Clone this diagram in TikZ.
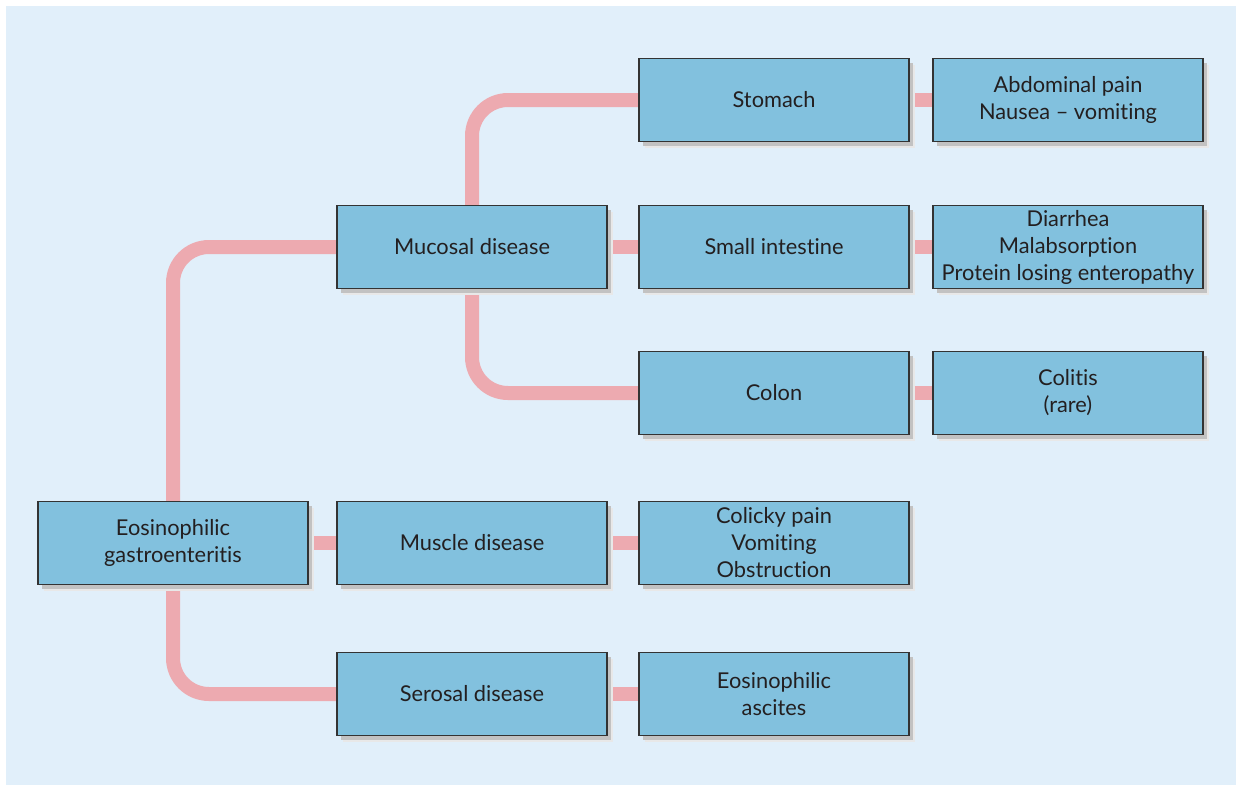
\documentclass[tikz,border=0pt]{standalone}
\usepackage{fontspec}
\setmainfont{Lato}[Ligatures=NoCommon]
\usetikzlibrary{positioning, shadows, backgrounds}
\definecolor{panelBack}{HTML}{E1EFFA}
\definecolor{boxFill}{HTML}{82C1DE}
\definecolor{boxLine}{HTML}{333333}
\definecolor{linkPink}{HTML}{EDAAB0}
\definecolor{textInk}{HTML}{231F20}

\begin{document}
\begin{tikzpicture}[
    x=1pt, y=-1pt,
    node distance=30pt,
    box/.style={
        rectangle,
        draw=boxLine,
        line width=1.1pt,
        fill=boxFill,
        minimum width=270pt,
        minimum height=83pt,
        inner sep=0pt,
        outer sep=0pt,
        align=center,
        font=\fontsize{21.8}{27}\selectfont,
        text=textInk,
        drop shadow={shadow xshift=6pt, shadow yshift=-6pt, fill=black!9, opacity=1},
        drop shadow={shadow xshift=4pt, shadow yshift=-4pt, fill=black!24, opacity=1}
    },
    link/.style={
        draw=linkPink,
        line width=14pt,
        rounded corners=36pt
    }
]
\useasboundingbox (0,0) rectangle (1242,788);

% Root and second level
\node[box] (gastro) at (173,543) {Eosinophilic\\gastroenteritis};
\node[box, right=29pt of gastro] (muscle) {Muscle disease};
\node[box, above=213pt of muscle] (mucosal) {Mucosal disease};
\node[box, below=68pt of muscle] (serosal) {Serosal disease};

% Sites
\node[box, right=32pt of mucosal] (small) {Small intestine};
\node[box, above=64pt of small] (stomach) {Stomach};
\node[box, below=63pt of small] (colon) {Colon};
\node[box, right=32pt of muscle] (colicky) {Colicky pain\\Vomiting\\Obstruction};
\node[box, right=32pt of serosal] (ascites) {Eosinophilic\\ascites};

% Symptoms
\node[box, right=24pt of stomach] (abdominal) {Abdominal pain\\Nausea -- vomiting};
\node[box, right=24pt of small] (diarrhea) {Diarrhea\\Malabsorption\\Protein losing enteropathy};
\node[box, right=24pt of colon] (colitis) {Colitis\\(rare)};

\begin{scope}[on background layer]
\fill[panelBack] (6,6) rectangle (1236,785);

% Branches
\draw[link] (gastro.north) |- (mucosal.west);
\draw[link] (gastro.south) |- (serosal.west);
\draw[link] (mucosal.north) |- (stomach.west);
\draw[link] (mucosal.south) |- (colon.west);

% Stubs
\draw[link] (gastro) -- (muscle);
\draw[link] (mucosal) -- (small);
\draw[link] (muscle) -- (colicky);
\draw[link] (serosal) -- (ascites);
\draw[link] (stomach) -- (abdominal);
\draw[link] (small) -- (diarrhea);
\draw[link] (colon) -- (colitis);
\end{scope}

\end{tikzpicture}
\end{document}
